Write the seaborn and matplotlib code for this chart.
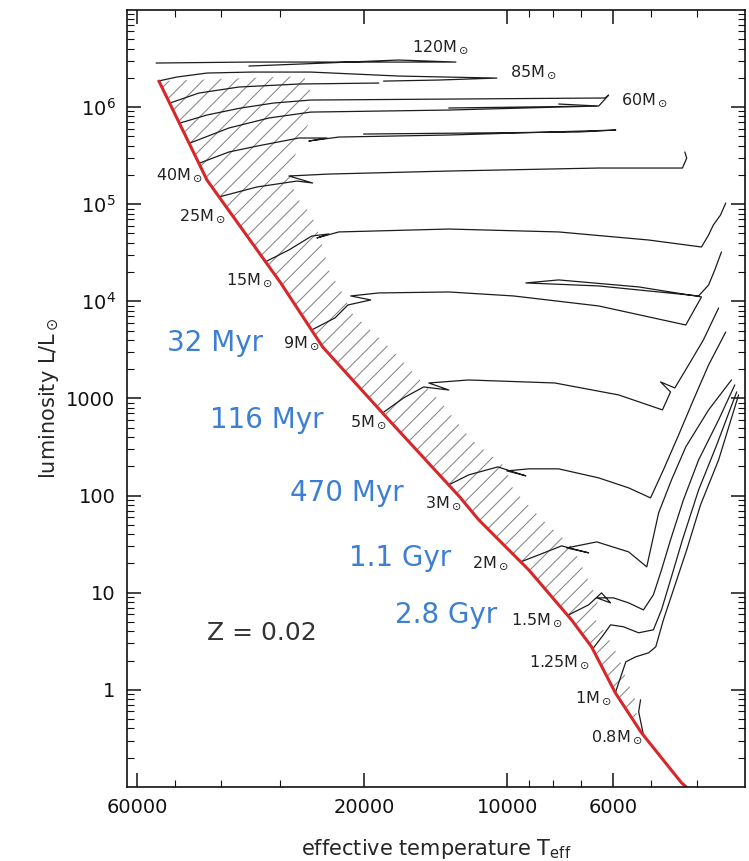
import numpy as np
import pandas as pd
import seaborn as sns
import matplotlib.pyplot as plt
from matplotlib.ticker import FixedLocator, FuncFormatter, LogLocator, NullFormatter

# values, as log10(Teff) and log10(L/Lsun)

# zero-age main sequence (red line)
zams_logT = [4.732, 4.631, 4.476, 4.388, 4.249, 4.100, 4.060, 3.955, 3.865, 3.823, 3.773, 3.718, 3.634, 3.624]
zams_logL = [6.267, 5.248, 4.188, 3.530, 2.779, 1.986, 1.750, 1.235, 0.720, 0.443, -0.031, -0.443, -0.957, -1.0]

# end of main sequence (right edge of hatched band), top to bottom
tams_logT = [4.428, 4.413, 4.419, 4.442, 4.455, 4.447, 4.411, 4.392, 4.375, 4.344, 4.329, 4.249, 4.197,
             4.144, 4.075, 4.004, 3.987, 3.926, 3.861, 3.830, 3.809, 3.819, 3.794, 3.766, 3.752, 3.731, 3.726]
tams_logL = [6.319, 6.154, 5.815, 5.557, 5.351, 5.094, 4.888, 4.631, 4.322, 4.065, 3.890, 3.530, 3.262,
             2.984, 2.573, 2.295, 2.058, 1.750, 1.461, 1.132, 0.926, 0.751, 0.587, 0.340, 0.134, -0.103, -0.360]

# evolutionary tracks
trk_a_logT = [4.738, 4.543, 4.333, 4.108, 4.228, 4.438, 4.543]
trk_a_logL = [6.453, 6.463, 6.463, 6.463, 6.484, 6.442, 6.422]
trk_b_logT = [4.734, 4.694, 4.631, 4.539, 4.413, 4.228, 4.022, 4.144, 4.260]
trk_b_logL = [6.267, 6.309, 6.350, 6.360, 6.360, 6.319, 6.298, 6.278, 6.267]
trk_c_logT = [4.709, 4.648, 4.564, 4.438, 4.270]
trk_c_logL = [6.041, 6.144, 6.206, 6.237, 6.247]
trk_d_logT = [4.688, 4.631, 4.560, 4.491, 4.413, 4.123, 3.795, 3.787, 3.808, 3.892]
trk_d_logL = [5.835, 5.918, 5.990, 6.041, 6.072, 6.082, 6.093, 6.123, 6.010, 6.031]
trk_e_logT = [4.667, 4.585, 4.501, 4.413, 4.123, 3.812, 4.123]
trk_e_logL = [5.629, 5.784, 5.887, 5.948, 5.969, 6.010, 5.990]
trk_f_logT = [4.646, 4.585, 4.526, 4.438, 4.379, 4.417, 4.354, 4.123, 3.772, 3.850, 4.302]
trk_f_logL = [5.424, 5.537, 5.598, 5.681, 5.681, 5.650, 5.691, 5.712, 5.763, 5.743, 5.722]
trk_g_logT = [4.606, 4.526, 4.442, 4.409, 4.459, 4.375, 4.123, 3.808, 3.632, 3.623, 3.627]
trk_g_logL = [5.074, 5.177, 5.238, 5.218, 5.290, 5.310, 5.341, 5.372, 5.372, 5.475, 5.537]
trk_h_logT = [4.509, 4.459, 4.411, 4.375, 4.400, 4.354, 4.123, 3.892, 3.703, 3.592, 3.577, 3.567, 3.552, 3.541]
trk_h_logL = [4.405, 4.528, 4.672, 4.693, 4.652, 4.714, 4.744, 4.714, 4.631, 4.559, 4.683, 4.786, 4.888, 5.012]
trk_9_logT = [4.411, 4.362, 4.335, 4.287, 4.329, 4.270, 4.123, 3.987, 3.808, 3.625, 3.592, 3.724, 3.892,
              3.961, 3.808, 3.598, 3.577, 3.564, 3.550]
trk_9_logL = [3.705, 3.829, 3.962, 4.014, 4.055, 4.086, 4.096, 4.055, 3.952, 3.756, 4.045, 4.148, 4.220,
              4.189, 4.158, 4.055, 4.168, 4.323, 4.508]
trk_5_logT = [4.262, 4.218, 4.176, 4.123, 4.165, 4.081, 3.900, 3.766, 3.674, 3.657, 3.678, 3.648, 3.619, 3.588, 3.556]
trk_5_logL = [2.851, 3.005, 3.118, 3.087, 3.159, 3.190, 3.159, 3.036, 2.882, 3.067, 3.170, 3.108, 3.345, 3.602, 3.931]
trk_3_logT = [4.123, 4.081, 4.020, 3.961, 4.001, 3.955, 3.892, 3.808, 3.745, 3.699, 3.672, 3.640, 3.609, 3.577, 3.541]
trk_3_logL = [2.110, 2.213, 2.295, 2.203, 2.254, 2.275, 2.275, 2.182, 2.079, 1.976, 2.264, 2.624, 2.984, 3.345, 3.684]
trk_2_logT = [3.972, 3.934, 3.886, 3.829, 3.875, 3.812, 3.745, 3.707, 3.682, 3.655, 3.625, 3.577, 3.529]
trk_2_logL = [1.317, 1.389, 1.482, 1.410, 1.461, 1.523, 1.420, 1.266, 1.822, 2.161, 2.501, 2.882, 3.190]
trk_15_logT = [3.871, 3.829, 3.802, 3.783, 3.812, 3.777, 3.745, 3.714, 3.693, 3.676, 3.657, 3.630, 3.598, 3.556, 3.522]
trk_15_logL = [0.772, 0.875, 0.998, 0.895, 0.947, 0.947, 0.895, 0.823, 0.978, 1.235, 1.544, 1.955, 2.367, 2.779, 3.139]
trk_125_logT = [3.819, 3.798, 3.783, 3.756, 3.724, 3.693, 3.676, 3.657, 3.632, 3.598, 3.560, 3.518]
trk_125_logL = [0.432, 0.566, 0.669, 0.649, 0.587, 0.618, 0.823, 1.132, 1.544, 2.058, 2.521, 3.067]
trk_1_logT = [3.773, 3.751, 3.730, 3.703, 3.688, 3.672, 3.651, 3.623, 3.594, 3.556, 3.514]
trk_1_logL = [-0.031, 0.288, 0.340, 0.381, 0.443, 0.720, 1.029, 1.441, 1.904, 2.367, 3.036]
trk_08_logT = [3.714, 3.724, 3.720]
trk_08_logL = [-0.463, -0.226, -0.103]

# labels
mass_labels = ['120', '85', '60', '40', '25', '15', '9', '5', '3', '2', '1.5', '1.25', '1', '0.8']
mass_logT = [4.140, 3.945, 3.711, 4.690, 4.640, 4.541, 4.432, 4.291, 4.134, 4.035, 3.938, 3.890, 3.819, 3.770]
mass_logL = [6.617, 6.360, 6.072, 5.300, 4.878, 4.220, 3.571, 2.758, 1.925, 1.307, 0.721, 0.288, -0.082, -0.483]

age_labels = ['32 Myr', '116 Myr', '470 Myr', '1.1 Gyr', '2.8 Gyr']
age_logT = [4.614, 4.505, 4.337, 4.226, 4.129]
age_logL = [3.571, 2.779, 2.028, 1.359, 0.770]

x_major = [60000, 20000, 10000, 6000]
x_minor = [50000, 40000, 30000, 9000, 8000, 7000, 5000, 4000]
y_major = [1, 10, 100, 1000, 1e4, 1e5, 1e6]

sns.set_theme(style='ticks')
plt.rcParams['font.family'] = ['DejaVu Sans']
plt.rcParams['hatch.linewidth'] = 0.8
plt.rcParams['hatch.color'] = '#8c8c8c'

tracks = {
    'a': (trk_a_logT, trk_a_logL), 'b': (trk_b_logT, trk_b_logL), 'c': (trk_c_logT, trk_c_logL),
    'd': (trk_d_logT, trk_d_logL), 'e': (trk_e_logT, trk_e_logL), 'f': (trk_f_logT, trk_f_logL),
    'g': (trk_g_logT, trk_g_logL), 'h': (trk_h_logT, trk_h_logL), '9': (trk_9_logT, trk_9_logL),
    '5': (trk_5_logT, trk_5_logL), '3': (trk_3_logT, trk_3_logL), '2': (trk_2_logT, trk_2_logL),
    '1.5': (trk_15_logT, trk_15_logL), '1.25': (trk_125_logT, trk_125_logL),
    '1': (trk_1_logT, trk_1_logL), '0.8': (trk_08_logT, trk_08_logL),
}
rows = []
for name, (lt, ll) in tracks.items():
    for i, (a, b) in enumerate(zip(lt, ll)):
        rows.append({'track': name, 'step': i, 'Teff': 10 ** a, 'L': 10 ** b})
df = pd.DataFrame(rows)

fig = plt.figure(figsize=(7.49, 8.61), dpi=100)
ax = fig.add_axes([0.169, 0.086, 0.826, 0.9025])
ax.set_xscale('log')
ax.set_yscale('log')

# hatched main-sequence band
keep = [i for i, v in enumerate(zams_logL) if v > -0.1]
band_T = [zams_logT[i] for i in keep] + tams_logT[::-1]
band_L = [zams_logL[i] for i in keep] + tams_logL[::-1]
ax.fill(10 ** np.array(band_T), 10 ** np.array(band_L), facecolor='none',
        edgecolor='#8c8c8c', hatch='//', lw=0)

sns.lineplot(data=df, x='Teff', y='L', units='track', estimator=None, sort=False,
             color='#1c1c1c', lw=0.9, ax=ax)
sns.lineplot(x=10 ** np.array(zams_logT), y=10 ** np.array(zams_logL), sort=False,
             color='#d8262a', lw=2.2, ax=ax)

for s, lt, ll in zip(mass_labels, mass_logT, mass_logL):
    ax.text(10 ** lt, 10 ** ll, s + r'M$_\odot$', fontsize=11.5, color='#222222',
            ha='center', va='center')
for s, lt, ll in zip(age_labels, age_logT, age_logL):
    ax.text(10 ** lt, 10 ** ll, s, fontsize=20, color='#3d7fd0', ha='center', va='center')
ax.text(10 ** 4.516, 10 ** 0.587, 'Z = 0.02', fontsize=18, color='#333333', ha='center', va='center')

ax.set_xlim(10 ** 4.80, 10 ** 3.50)
ax.set_ylim(0.1, 1e7)

ax.xaxis.set_major_locator(FixedLocator(x_major))
ax.xaxis.set_minor_locator(FixedLocator(x_minor))
ax.xaxis.set_major_formatter(FuncFormatter(lambda v, p: f'{int(round(v))}'))
ax.xaxis.set_minor_formatter(NullFormatter())


def ylab(v, p):
    k = int(round(np.log10(v)))
    return f'{int(round(v))}' if k < 4 else rf'$10^{{{k}}}$'


ax.yaxis.set_major_locator(FixedLocator(y_major))
ax.yaxis.set_minor_locator(LogLocator(base=10, subs=np.arange(2, 10), numticks=20))
ax.yaxis.set_major_formatter(FuncFormatter(ylab))
ax.yaxis.set_minor_formatter(NullFormatter())

ax.tick_params(which='both', direction='in', top=True, right=True, colors='#111111')
ax.tick_params(which='major', length=10, width=1.1, labelsize=14, pad=8)
ax.tick_params(which='minor', length=5, width=0.8)
for sp in ax.spines.values():
    sp.set_linewidth(1.2)
    sp.set_color('#111111')

ax.set_xlabel(r'effective temperature T$_{\rm eff}$', fontsize=15, labelpad=14)
ax.set_ylabel(r'luminosity L/L$_\odot$', fontsize=15, labelpad=4)

fig.savefig('out.png', dpi=100)
